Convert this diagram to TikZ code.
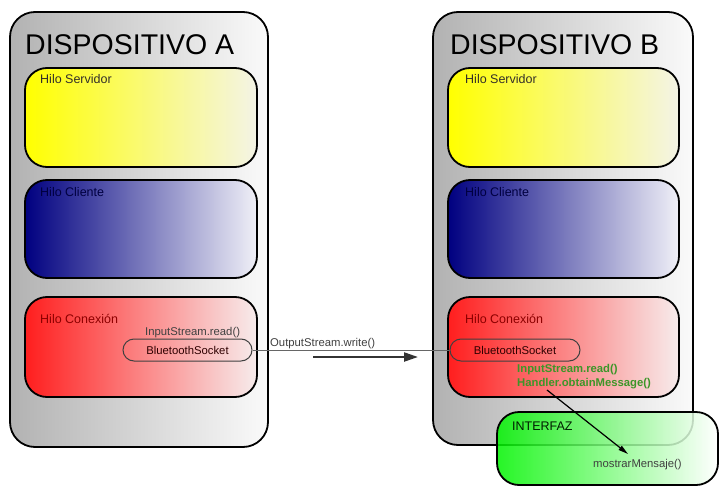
\documentclass[tikz,border=0pt]{standalone}
\usepackage{fontspec}
\setmainfont{Liberation Sans}
\usetikzlibrary{arrows.meta}
\definecolor{navyc}{RGB}{0,0,128}
\definecolor{redc}{RGB}{255,30,30}
\definecolor{greenc}{RGB}{0,245,0}
\definecolor{txtgreen}{RGB}{60,150,40}
\definecolor{outl}{RGB}{178,178,178}
\definecolor{outr}{RGB}{250,250,250}
\definecolor{yelr}{RGB}{244,244,230}
\definecolor{bluer}{RGB}{240,240,247}
\definecolor{redr}{RGB}{247,236,236}
\begin{document}
\begin{tikzpicture}[x=1pt,y=-1pt,
  device/.style={draw=black,line width=1.8pt,rounded corners=25pt,shading=axis,shading angle=90,left color=outl,right color=outr},
  hilo/.style={draw=black,line width=1.8pt,rounded corners=22pt},
  socketbox/.style={draw=black!75,line width=1pt,rounded corners=11pt,minimum width=129pt,minimum height=22pt,inner sep=0pt,font=\fontsize{11.3}{13}\selectfont,text=black!70!red!60!black},
  title/.style={font=\fontsize{28.5}{32}\selectfont,anchor=base west,inner sep=0pt},
  hlabel/.style={font=\fontsize{12.5}{14}\selectfont,anchor=base west,inner sep=0pt},
  slabel/.style={font=\fontsize{11.3}{13}\selectfont,anchor=base west,inner sep=0pt},
]
\useasboundingbox (0,0) rectangle (720,487);
% Device A
\node[device,minimum width=258pt,minimum height=435pt] (devA) at (139,229.5) {};
\node[hilo,shading=axis,shading angle=90,left color=yellow,right color=yelr,minimum width=232pt,minimum height=99pt] (servA) at (141,117.5) {};
\node[hilo,shading=axis,shading angle=90,left color=navyc,right color=bluer,minimum width=232pt,minimum height=98pt] (cliA) at (141,229) {};
\node[hilo,shading=axis,shading angle=90,left color=redc,right color=redr,minimum width=232pt,minimum height=100pt] (conA) at (141,347) {};
\node[title] (tA) at (25,55) {DISPOSITIVO A};
\node[hlabel,text=black!85!olive] (lsA) at (40,84) {Hilo Servidor};
\node[hlabel,text=navyc!50!black] (lcA) at (40,196) {Hilo Cliente};
\node[hlabel,text=red!55!black] (lxA) at (40,323) {Hilo Conexión};
\node[slabel,text=black!75] (irA) at (145,335) {InputStream.read()};
\node[socketbox] (sockA) at (187.5,350) {BluetoothSocket};
% Device B
\node[device,minimum width=260pt,minimum height=433pt] (devB) at (563,228.5) {};
\node[hilo,shading=axis,shading angle=90,left color=yellow,right color=yelr,minimum width=231pt,minimum height=99pt] (servB) at (563.5,117.5) {};
\node[hilo,shading=axis,shading angle=90,left color=navyc,right color=bluer,minimum width=231pt,minimum height=98pt] (cliB) at (563.5,229) {};
\node[hilo,shading=axis,shading angle=90,left color=redc,right color=redr,minimum width=231pt,minimum height=100pt] (conB) at (563.5,347) {};
\node[title] (tB) at (450,55) {DISPOSITIVO B};
\node[hlabel,text=black!85!olive] (lsB) at (465,84) {Hilo Servidor};
\node[hlabel,text=navyc!50!black] (lcB) at (465,196) {Hilo Cliente};
\node[hlabel,text=red!55!black] (lxB) at (465,323) {Hilo Conexión};
\node[socketbox,minimum width=130pt] (sockB) at (515,350) {BluetoothSocket};
\node[slabel,font=\fontsize{11.3}{13}\selectfont\bfseries,text=txtgreen] (irB) at (517,372) {InputStream.read()};
\node[slabel,font=\fontsize{11.3}{13}\selectfont\bfseries,text=txtgreen] (hoB) at (517,386) {Handler.obtainMessage()};
% connection
\draw[black!60,line width=0.8pt] (sockA.east) -- (sockB.west);
\node[slabel,text=black!75] (osw) at (270,346) {OutputStream.write()};
\coordinate (ar1) at (313,357);
\coordinate (ar2) at (418,357);
\draw[black!80,line width=2.2pt,-{Triangle[length=14pt,width=9pt]}] (ar1) -- (ar2);
% Interfaz
\node[draw=black,line width=1.8pt,rounded corners=22pt,shading=axis,shading angle=90,left color=greenc,right color=white,fill opacity=0.85,minimum width=221pt,minimum height=73pt] (intf) at (607.5,448.5) {};
\node[hlabel,text=black!70!green!40!black] (intl) at (512,430) {INTERFAZ};
\node[slabel,text=black!75] (mm) at (593,467) {mostrarMensaje()};
\coordinate (g1) at (547,390);
\coordinate (g2) at (628,454);
\draw[black,line width=1.2pt,-{Triangle[length=10pt,width=5pt]}] (g1) -- (g2);
\end{tikzpicture}
\end{document}
